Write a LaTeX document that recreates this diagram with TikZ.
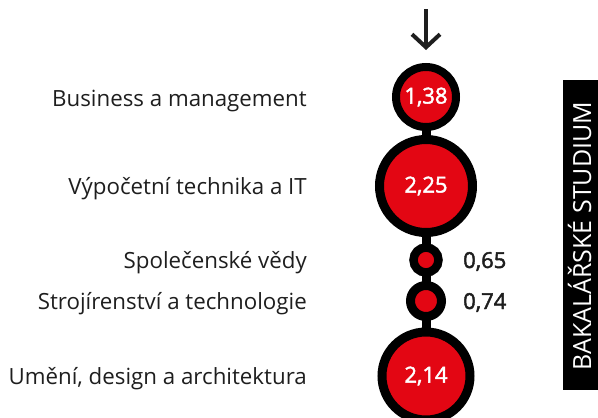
\documentclass[tikz,border=0pt]{standalone}
\usepackage{fontspec}
\setmainfont{Open Sans}
\newfontfamily\osmed{Open Sans}[FakeBold=2]
\usetikzlibrary{arrows.meta,backgrounds}
\definecolor{cred}{RGB}{227,6,19}
\definecolor{ctext}{RGB}{30,30,30}
\tikzset{
  bubble/.style={circle, fill=cred, draw=black, inner sep=0pt, text=white,
    font=\osmed\fontsize{22}{26}\selectfont},
  lbl/.style={anchor=base east, text=ctext, inner sep=0pt,
    font=\fontsize{22.3}{26}\selectfont},
  val/.style={anchor=base west, text=ctext, inner sep=0pt,
    font=\osmed\fontsize{22}{26}\selectfont},
  conn/.style={draw=black, line width=9pt},
  arrowst/.style={draw=ctext, line width=4pt,
    -{Straight Barb[length=13pt, width=28pt, line width=4pt]}},
}
\begin{document}
\begin{tikzpicture}[x=1pt,y=-1pt]
\useasboundingbox (0,0) rectangle (598,418);
\clip (0,0) rectangle (598,418);
% bubbles
\node[bubble, minimum size=60pt, line width=8pt] (c1) at (426,97) {1,38};
\node[bubble, minimum size=93pt, line width=9pt] (c2) at (426,186) {2,25};
\node[bubble, minimum size=25pt, line width=8.5pt] (c3) at (426,260) {};
\node[bubble, minimum size=31pt, line width=9pt] (c4) at (426,301) {};
\node[bubble, minimum size=88pt, line width=9pt] (c5) at (426,376) {2,14};
\begin{scope}[on background layer]
\draw[conn] (c1.center) -- (c5.center);
\end{scope}
% arrow
\coordinate (atop) at (426,9);
\coordinate (atip) at (426,50);
\draw[arrowst] (atop) -- (atip);
% labels
\node[lbl] (l1) at (307,106) {Business a management};
\node[lbl] (l2) at (307,194) {Výpočetní technika a IT};
\node[lbl] (l3) at (307,268) {Společenské vědy};
\node[lbl] (l4) at (307,309) {Strojírenství a technologie};
\node[lbl] (l5) at (307,384) {Umění, design a architektura};
% values
\node[val] (v3) at (463,268) {0,65};
\node[val] (v4) at (463,309) {0,74};
% side bar
\node[fill=black, minimum width=35pt, minimum height=310pt, inner sep=0pt,
  anchor=north west] (bar) at (563,80) {};
\node[rotate=90, anchor=base, text=white, inner sep=0pt,
  font=\fontsize{25}{29}\selectfont] (bartxt) at (591,236) {BAKALÁŘSKÉ STUDIUM};
\end{tikzpicture}
\end{document}
